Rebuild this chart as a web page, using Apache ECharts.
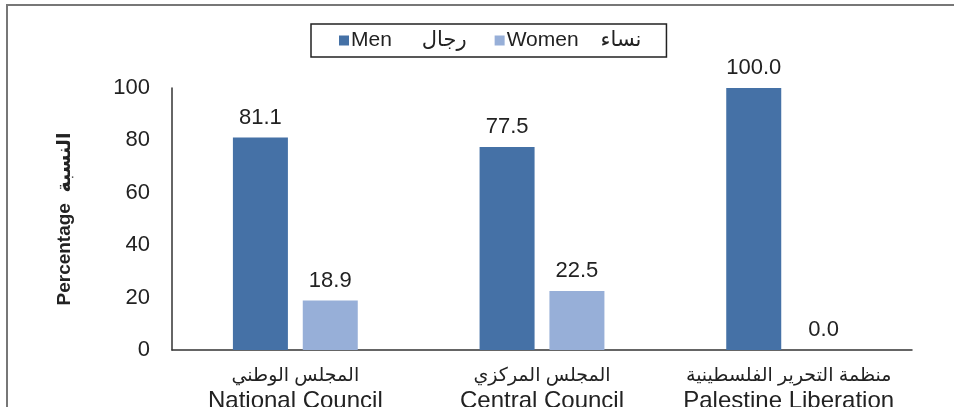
<!DOCTYPE html>
<html>
<head>
<meta charset="utf-8">
<script src="https://cdn.jsdelivr.net/npm/echarts@6/dist/echarts.min.js"></script>
<style>
  html, body { margin: 0; padding: 0; background: #fff; }
  #chart { width: 954px; height: 407px; }
</style>
</head>
<body>
<div id="chart"></div>
<script>
// Bodies: Arabic name and English name
const categoriesAr = ['المجلس الوطني', 'المجلس المركزي', 'منظمة التحرير الفلسطينية'];
const categoriesEn = ['National Council', 'Central Council', 'Palestine Liberation'];
// Percentage shares by sex
const menValues = [81.1, 77.5, 100.0];
const womenValues = [18.9, 22.5, 0.0];
const seriesEn = ['Men', 'Women'];
const seriesAr = ['رجال', 'نساء'];
const yTicks = { min: 0, max: 100, interval: 20 };

const categories = categoriesAr.map((ar, i) => ar + '\n' + categoriesEn[i]);
const seriesNames = seriesEn.map((en, i) => en + ' ' + seriesAr[i]);

const FONT = '"Liberation Sans", Arial, "DejaVu Sans", sans-serif';
const chart = echarts.init(document.getElementById('chart'));

const labelStyle = {
  show: true,
  position: 'top',
  distance: 9,
  fontSize: 22,
  color: '#222',
  fontFamily: FONT,
  formatter: p => p.value.toFixed(1)
};

chart.setOption({
  animation: false,
  backgroundColor: '#fff',
  textStyle: { fontFamily: FONT },
  graphic: [{
    type: 'rect',
    shape: { x: 7, y: 5, width: 960, height: 420 },
    style: { fill: 'none', stroke: '#777', lineWidth: 2 },
    z: 0
  }],
  legend: {
    data: seriesNames,
    left: 311,
    top: 24,
    icon: 'rect',
    itemWidth: 10,
    itemHeight: 10,
    itemGap: 28,
    padding: [6, 25, 6, 28],
    borderColor: '#222',
    borderWidth: 1.5,
    backgroundColor: '#fff',
    formatter: name => {
      const i = seriesNames.indexOf(name);
      return '{en|' + seriesEn[i] + '}{' + (i === 0 ? 'ar1' : 'ar2') + '|' + seriesAr[i] + '}';
    },
    textStyle: {
      fontSize: 21, color: '#222', fontFamily: FONT, padding: [0, 0, 0, -3],
      rich: {
        en: { fontSize: 21, color: '#222', fontFamily: FONT },
        ar1: { fontSize: 21, color: '#222', fontFamily: FONT, padding: [0, 0, 0, 30] },
        ar2: { fontSize: 21, color: '#222', fontFamily: FONT, padding: [0, 0, 0, 22] }
      }
    }
  },
  grid: { left: 172, right: 42, top: 88, bottom: 57, outerBoundsMode: 'none', containLabel: false },
  xAxis: {
    type: 'category',
    data: categories,
    axisLine: { show: true, lineStyle: { color: '#333', width: 1.5 } },
    axisTick: { show: false },
    axisLabel: {
      margin: 14,
      color: '#222',
      fontFamily: FONT,
      interval: 0,
      formatter: v => {
        const parts = v.split('\n');
        return '{ar|' + parts[0] + '}\n{en|' + parts[1] + '}';
      },
      rich: {
        ar: { fontSize: 19, lineHeight: 24, color: '#222', fontFamily: FONT },
        en: { fontSize: 24, lineHeight: 26, color: '#222', fontFamily: FONT }
      }
    }
  },
  yAxis: {
    type: 'value',
    min: yTicks.min,
    max: yTicks.max,
    interval: yTicks.interval,
    name: 'Percentage  النسبة',
    nameLocation: 'middle',
    nameGap: 98,
    nameTextStyle: { fontSize: 19, fontWeight: 'bold', color: '#222', fontFamily: FONT },
    axisLine: { show: true, lineStyle: { color: '#333', width: 1.5 } },
    axisTick: { show: false },
    splitLine: { show: false },
    axisLabel: { margin: 22, fontSize: 22, color: '#222', fontFamily: FONT }
  },
  series: [
    {
      name: seriesNames[0],
      type: 'bar',
      data: menValues,
      barWidth: 55,
      barGap: '27%',
      itemStyle: { color: '#4571a6' },
      label: labelStyle
    },
    {
      name: seriesNames[1],
      type: 'bar',
      data: womenValues,
      barWidth: 55,
      itemStyle: { color: '#97afd8' },
      label: labelStyle
    }
  ]
});
</script>
</body>
</html>
